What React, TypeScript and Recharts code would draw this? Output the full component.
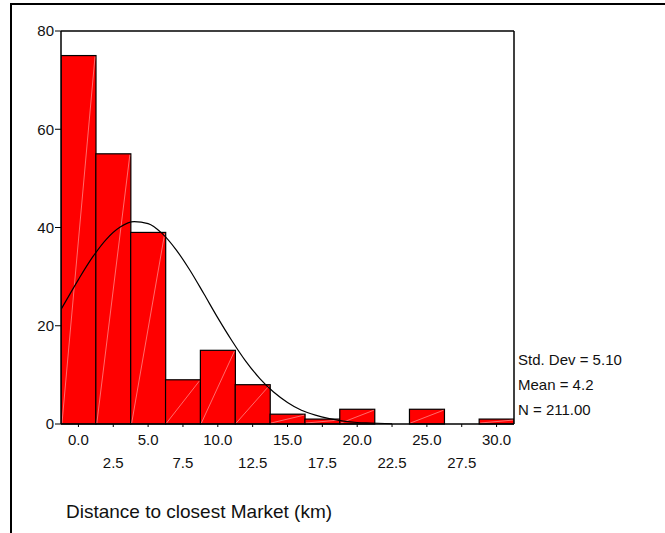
import React from 'react';
import { ComposedChart, Bar, Line, XAxis, YAxis, ReferenceLine } from 'recharts';

// Histogram bins (centres, km) and counts
const binCenters = [0, 2.5, 5, 7.5, 10, 12.5, 15, 17.5, 20, 22.5, 25, 27.5, 30];
const frequencies = [75, 55, 39, 9, 15, 8, 2, 1, 3, 0, 3, 0, 1];
const xTickLabels = ['0.0', '2.5', '5.0', '7.5', '10.0', '12.5', '15.0', '17.5', '20.0', '22.5', '25.0', '27.5', '30.0'];
const yTicks = [0, 20, 40, 60, 80];

// Fitted normal curve
const curveX = [-1.25, 0, 1, 2, 3, 4, 5, 6, 7, 8, 9, 10, 11, 12, 13, 14, 15, 16, 17, 18, 19, 20, 21, 22, 22.5];
const curveY = [23.3, 29.4, 33.9, 37.6, 40.1, 41.2, 40.8, 38.8, 35.5, 31.3, 26.5, 21.6, 17.0, 12.8, 9.3, 6.5, 4.4, 2.8, 1.8, 1.1, 0.6, 0.3, 0.2, 0.1, 0.05];

const statsLines = ['Std. Dev = 5.10', 'Mean = 4.2', 'N = 211.00'];
const axisTitle = 'Distance to closest Market (km)';

const barData = binCenters.map((x, i) => ({ x, count: frequencies[i] }));
const curveData = curveX.map((x, i) => ({ x, y: curveY[i] }));

const FONT = '"Liberation Sans", Arial, sans-serif';

const XTick = (props: any) => {
  const { x, y, payload } = props;
  const i = binCenters.indexOf(payload.value);
  const second = i % 2 === 1;
  return (
    <text x={x} y={y + (second ? 39 : 15.5)} textAnchor="middle" fontSize={15} fontFamily={FONT} fill="#111">
      {xTickLabels[i]}
    </text>
  );
};

const HistBar = (props: any) => {
  const { x, y, width, height } = props;
  if (!height || height <= 0) return null;
  return (
    <g>
      <rect x={x} y={y} width={width} height={height} fill="#ff0000" stroke="#000" strokeWidth={1.2} />
      <line x1={x + 1} y1={y + height - 1} x2={x + width - 1} y2={y + 1} stroke="#ffb3b3" strokeWidth={0.6} />
    </g>
  );
};

export default function App() {
  return (
    <div style={{ position: 'absolute', left: 0, top: 0, width: 665, height: 533, background: '#fff', overflow: 'hidden' }}>
      <div
        style={{
          position: 'absolute',
          left: 10,
          top: 3,
          width: 660,
          height: 540,
          borderTop: '2px solid #000',
          borderLeft: '2px solid #000',
          boxSizing: 'border-box',
        }}
      />
      <div style={{ position: 'absolute', left: 0, top: 0 }}>
        <ComposedChart
          width={665}
          height={533}
          data={barData}
          margin={{ top: 31, right: 151, left: 0, bottom: 0 }}
          barCategoryGap={0}
          barGap={0}
        >
          <XAxis
            dataKey="x"
            type="number"
            domain={[-1.25, 31.25]}
            ticks={binCenters}
            allowDataOverflow
            height={109}
            tickSize={3}
            tick={<XTick />}
            stroke="#000"
            axisLine={{ stroke: '#000', strokeWidth: 1.5 }}
            tickLine={{ stroke: '#000' }}
            interval={0}
          />
          <XAxis xAxisId="curve" dataKey="x" type="number" domain={[-1.25, 31.25]} allowDataOverflow hide />
          <YAxis
            type="number"
            domain={[0, 80]}
            ticks={yTicks}
            width={61}
            tickSize={6}
            tickMargin={1}
            tick={{ fontSize: 15, fontFamily: FONT, fill: '#111' }}
            axisLine={{ stroke: '#000', strokeWidth: 1.5 }}
            tickLine={{ stroke: '#000' }}
            interval={0}
          />
          <Bar dataKey="count" shape={<HistBar />} isAnimationActive={false} />
          <Line
            xAxisId="curve"
            data={curveData}
            dataKey="y"
            type="monotone"
            stroke="#000"
            strokeWidth={1.2}
            dot={false}
            activeDot={false}
            isAnimationActive={false}
          />
          <ReferenceLine y={80} stroke="#000" strokeWidth={1.5} ifOverflow="visible" />
          <ReferenceLine x={31.25} stroke="#000" strokeWidth={1.5} ifOverflow="visible" />
        </ComposedChart>
      </div>
      <svg width={665} height={533} style={{ position: 'absolute', left: 0, top: 0, pointerEvents: 'none' }}>
        {statsLines.map((s, i) => (
          <text key={s} x={518} y={365 + i * 25} fontSize={15} fontFamily={FONT} fill="#111">
            {s}
          </text>
        ))}
        <text x={66} y={518} fontSize={19} fontFamily={FONT} fill="#111">
          {axisTitle}
        </text>
      </svg>
    </div>
  );
}
